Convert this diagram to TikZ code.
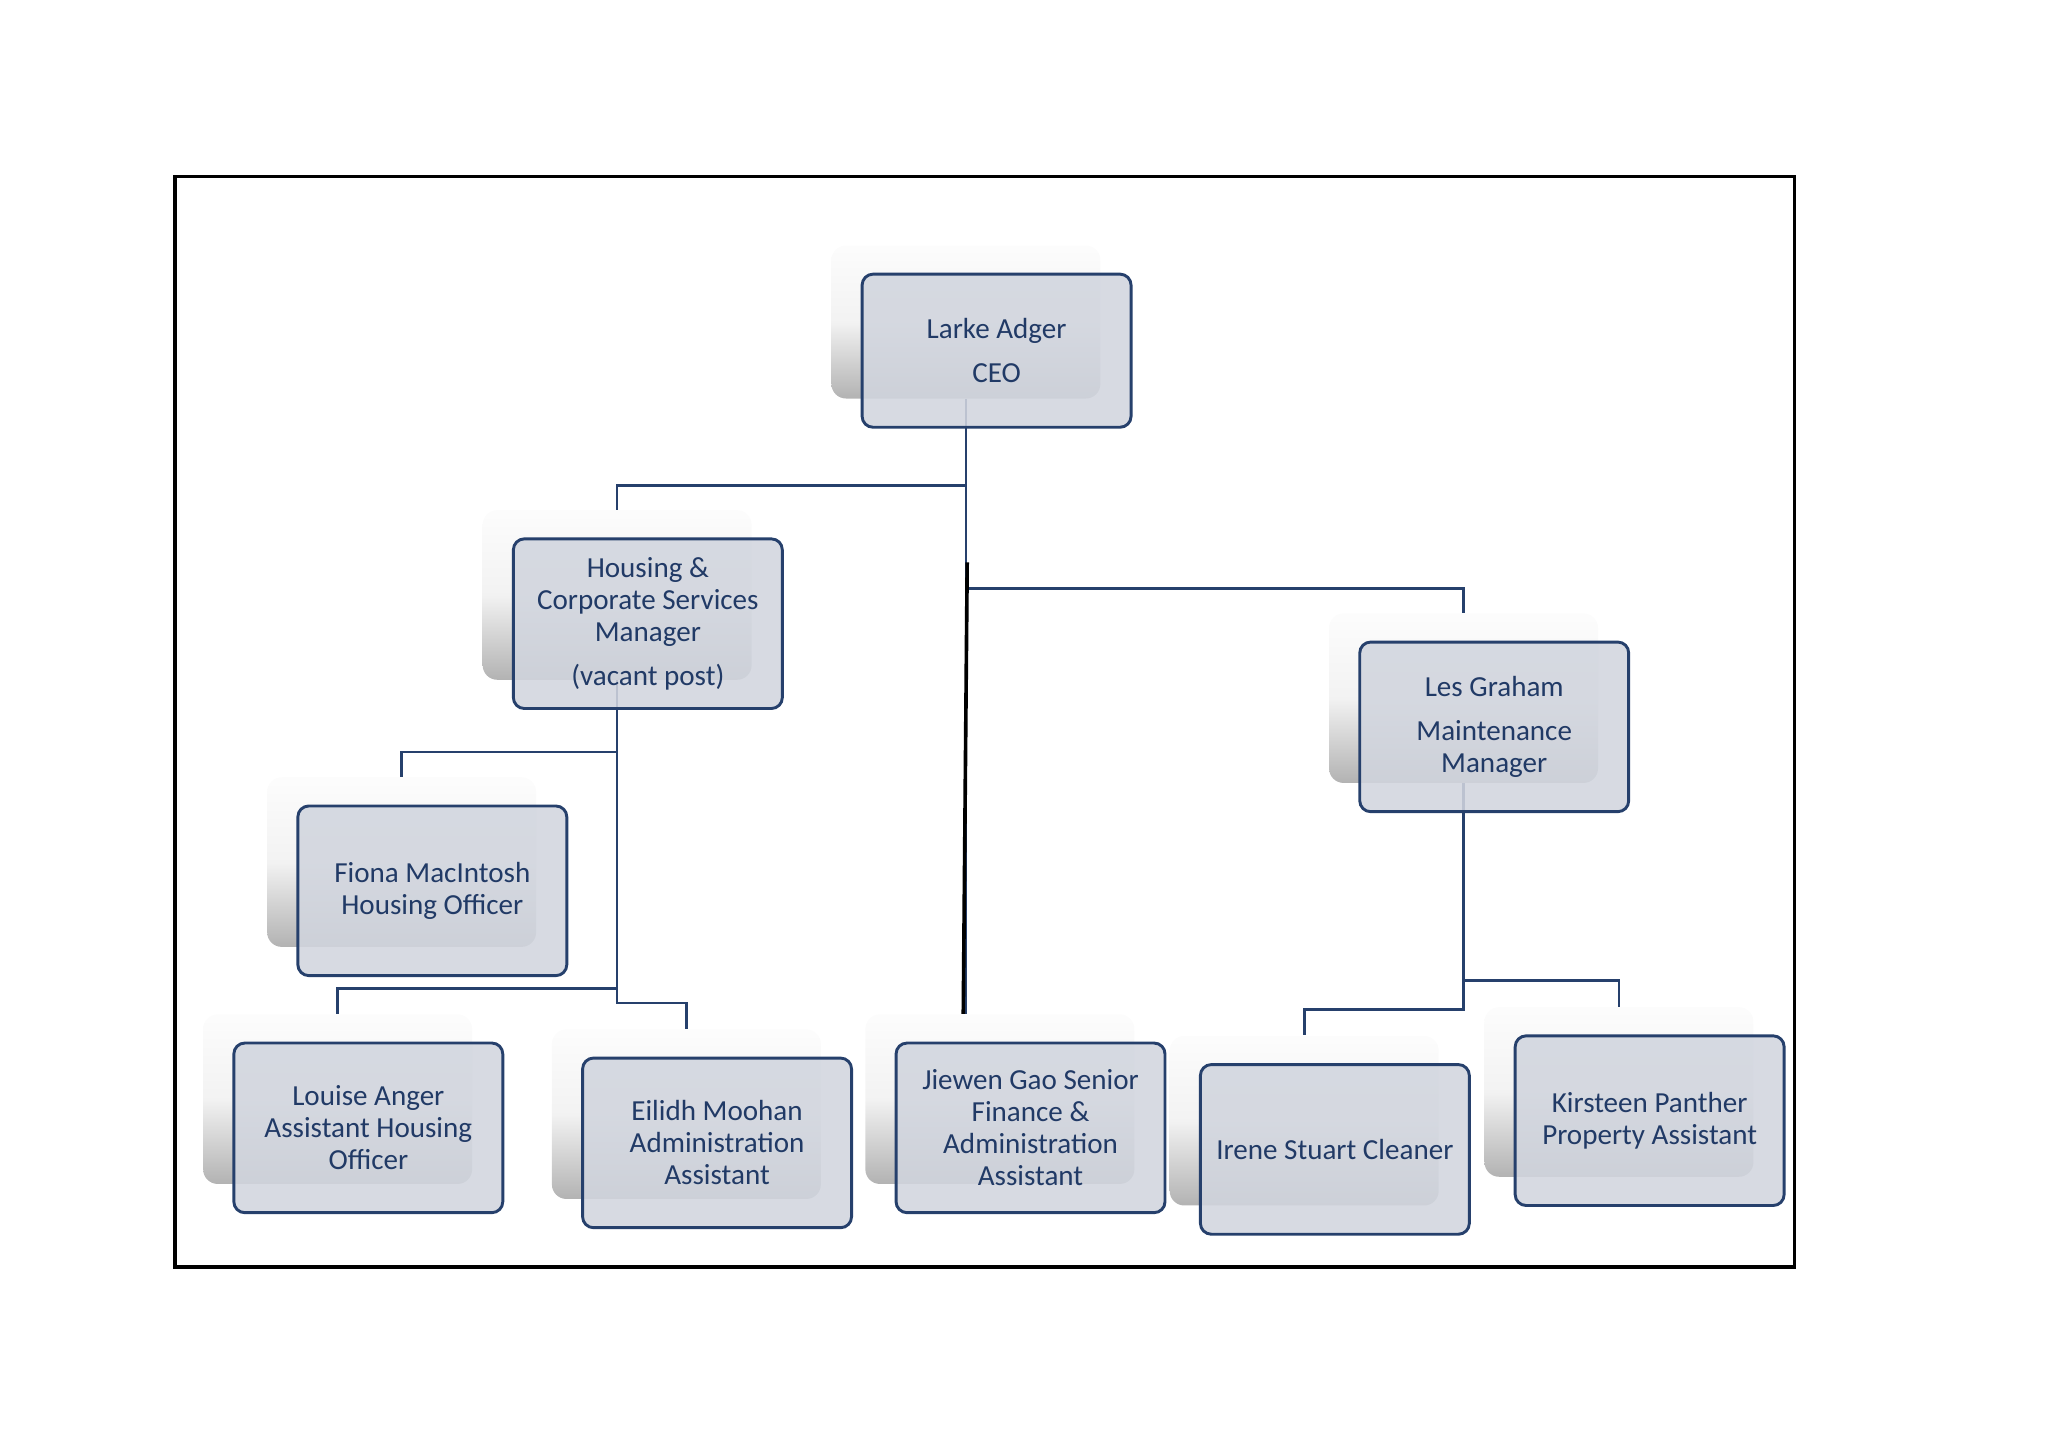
\documentclass[tikz,border=0pt]{standalone}
\usepackage{xcolor}
\usepackage{fontspec}
\setmainfont{Carlito}
\usepackage{tikz}
\usetikzlibrary{positioning}
\definecolor{orgline}{RGB}{38,64,108}
\definecolor{orgfill}{RGB}{209,213,222}
\definecolor{orgtext}{RGB}{33,58,102}
\tikzset{
  every picture/.style = {
    x = 0.18941mm,
    y = -0.18941mm,
  }
  ,
  frame/.style = {
    draw = black,
    line width = 1.4pt
  }
  , % grey block behind every post
  back/.style = {
    rectangle,
    rounded corners = 6pt,
    top color = black!1,
    bottom color = black!30,
    middle color = black!5,
    minimum width = 3.9cm,
    minimum height = 2.46cm,
    inner sep = 0pt
  }
  , % the post itself
  post/.style = {
    rectangle,
    rounded corners = 4.5pt,
    draw = orgline,
    line width = 1.2pt,
    fill = orgfill,
    fill opacity = 0.88,
    text opacity = 1,
    text = orgtext,
    align = center,
    font = \fontsize{12}{13.2}\selectfont,
    minimum width = 3.9cm,
    minimum height = 2.46cm,
    inner sep = 0pt
  }
  , % reporting lines
  link/.style = {
    draw = orgline,
    line width = 1.1pt
  }
  ,
  trunk/.style = {
    draw = black,
    line width = 1.5pt
  }
}
\begin{document}
\begin{tikzpicture}
\useasboundingbox (0,0) rectangle (1568,1109);
\draw[frame] (134,135) rectangle (1374,970);
% blocks behind
\node[back, minimum height = 2.22cm] at (739.5,246.5) (ceo-s) {};
\node[back] at (472.5,455.5) (hcs-s) {};
\node[back] at (1120.5,534.5) (les-s) {};
\node[back] at (307.5,660) (fiona-s) {};
\node[back] at (258.5,841.5) (louise-s) {};
\node[back] at (525.5,853) (eilidh-s) {};
\node[back] at (765.5,841.5) (jiewen-s) {};
\node[back] at (998.5,858) (irene-s) {};
\node[back] at (1239.5,836) (kirsteen-s) {};
% lines
\draw[link] (ceo-s.south) -- ++(0,66) -| (hcs-s.north);
\draw[link] (ceo-s.south) -- ++(0,145) -| (les-s.north);
\coordinate (jtop) at (ceo-s.south |- jiewen-s.north);
\draw[link] (ceo-s.south) -- (jtop);
\draw[trunk] ([shift={(1,125)}]ceo-s.south) -- ([shift={(-2,0)}]jtop);
\draw[link] (hcs-s.south) -- ++(0,55) -| (fiona-s.north);
\draw[link] (hcs-s.south) -- ++(0,236) -| (louise-s.north);
\draw[link] (hcs-s.south) -- ++(0,247) -| (eilidh-s.north);
\draw[link] (les-s.south) -- ++(0,151) -| (kirsteen-s.north);
\draw[link] (les-s.south) -- ++(0,173) -| (irene-s.north);
% posts
\node[post, minimum height = 2.22cm] at ([shift={(23.5,22)}]ceo-s.center) (ceo) {Larke Adger\\[5pt]CEO};
\node[post] at ([shift={(23.5,22)}]hcs-s.center) (hcs) {Housing \&\\Corporate Services\\Manager\\[5pt](vacant post)};
\node[post] at ([shift={(23.5,22)}]les-s.center) (les) {Les Graham\\[5pt]Maintenance\\Manager};
\node[post] at ([shift={(23.5,22)}]fiona-s.center) (fiona) {Fiona MacIntosh\\Housing Officer};
\node[post] at ([shift={(23.5,22)}]louise-s.center) (louise) {Louise Anger\\Assistant Housing\\Officer};
\node[post] at ([shift={(23.5,22)}]eilidh-s.center) (eilidh) {Eilidh Moohan\\Administration\\Assistant};
\node[post] at ([shift={(23.5,22)}]jiewen-s.center) (jiewen) {Jiewen Gao Senior\\Finance \&\\Administration\\Assistant};
\node[post] at ([shift={(23.5,22)}]irene-s.center) (irene) {Irene Stuart Cleaner};
\node[post] at ([shift={(23.5,22)}]kirsteen-s.center) (kirsteen) {Kirsteen Panther\\Property Assistant};
\end{tikzpicture}
\end{document}
